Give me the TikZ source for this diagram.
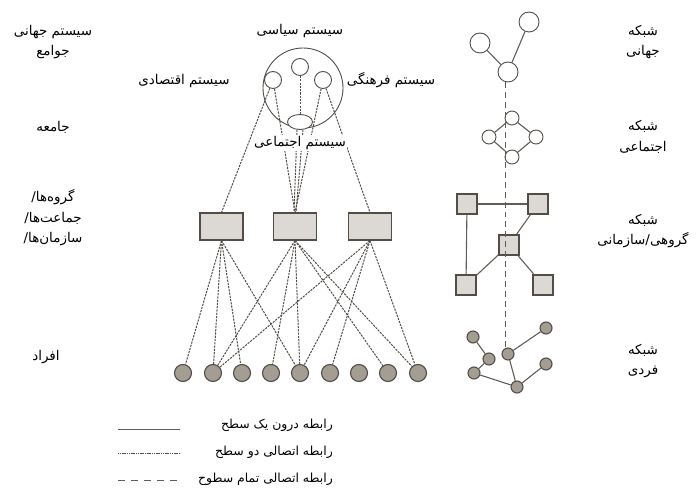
\documentclass[tikz,border=0pt]{standalone}
\usepackage{fontspec}
\usetikzlibrary{shapes.geometric}
\newfontfamily\farsi[Script=Arabic]{DejaVu Sans}
\TeXXeTstate=1
\newcommand{\fa}[1]{{\farsi\beginR #1\endR}}

\definecolor{edgegray}{HTML}{524D48}
\definecolor{boxfill}{HTML}{DCD9D4}
\definecolor{dotfill}{HTML}{A39D94}
\definecolor{linkgray}{HTML}{625C56}

\tikzset{
  link/.style={draw=edgegray, line width=1pt, dash pattern=on 2.2pt off 1.1pt},
  solidlink/.style={draw=linkgray, line width=1.1pt},
  spine/.style={draw=linkgray, line width=0.9pt, dash pattern=on 6pt off 4pt},
  ring/.style={circle, draw=edgegray, line width=0.9pt, inner sep=0pt},
  grp/.style={rectangle, draw=edgegray, fill=boxfill, line width=1.1pt,
              minimum width=43bp, minimum height=27bp, inner sep=0pt},
  sq/.style={rectangle, draw=edgegray, fill=boxfill, line width=1.1pt,
             minimum size=20bp, inner sep=0pt},
  person/.style={circle, draw=edgegray, fill=dotfill, line width=1.1pt,
                 minimum size=17bp, inner sep=0pt},
  dot/.style={circle, draw=edgegray, fill=dotfill, line width=1.1pt,
              minimum size=12bp, inner sep=0pt},
  lbl/.style={font=\fontsize{13.5}{20.5}\selectfont, align=center, inner sep=0pt},
  keylbl/.style={font=\fontsize{12.5}{16}\selectfont, inner sep=0pt, anchor=east},
}

\begin{document}
\begin{tikzpicture}[x=1bp, y=-1bp]
\useasboundingbox (0,0) rectangle (698,490);

% ---- social system and its subsystems ----
\node[ring, minimum size=80bp] (society) at (303,88) {};
\node[ring, minimum size=17bp] (pol) at (300,67) {};
\node[ring, minimum size=17bp] (eco) at (273,80) {};
\node[ring, minimum size=17bp] (cul) at (323,80) {};
\node[ellipse, draw=edgegray, line width=0.9pt, fill=white, inner sep=0pt,
      minimum width=25bp, minimum height=15bp] (soc) at (300,122) {};

\node[lbl] (polL) at (300,31) {\fa{سیستم سیاسی}};
\node[lbl] (ecoL) at (184,81) {\fa{سیستم اقتصادی}};
\node[lbl] (culL) at (391,80) {\fa{سیستم فرهنگی}};

% ---- groups and individuals ----
\node[grp] (g1) at (221.5,226.5) {};
\node[grp] (g2) at (295,226.5) {};
\node[grp] (g3) at (370,226.5) {};

\foreach \i/\x in {1/183,2/213,3/242,4/271,5/300,6/330,7/359,8/388,9/418}
  \node[person] (p\i) at (\x,373) {};

% links between the subsystems and the groups
\draw[link] (pol) -- (soc);
\draw[link] (eco) -- (g1.north);
\draw[link] (eco) -- (g2.north);
\draw[link] (cul) -- (g2.north);
\draw[link] (cul) -- (g3.north);
\draw[link] ([xshift=-3pt]soc.south) -- ([xshift=-1pt]g2.north);
\draw[link] ([xshift=3pt]soc.south) -- ([xshift=1pt]g2.north);

\node[lbl, fill=white, inner sep=1pt] (socL) at (300,143) {\fa{سیستم اجتماعی}};

% links between the groups and the individuals
\foreach \p in {1,2,3,5} \draw[link] (g1.south) -- (p\p);
\foreach \p in {2,4,5,8,9} \draw[link] (g2.south) -- (p\p);
\foreach \p in {2,5,6,9} \draw[link] (g3.south) -- (p\p);

% ---- level labels (left) ----
\node[lbl] (lvl1) at (53,42) {\fa{سیستم جهانی}\\\fa{جوامع}};
\node[lbl] (lvl2) at (53,127) {\fa{جامعه}};
\node[lbl] (lvl3) at (53,218) {\fa{گروه‌ها/}\\\fa{جماعت‌ها/}\\\fa{سازمان‌ها/}};
\node[lbl] (lvl4) at (46,357) {\fa{افراد}};

% ---- network column (right) ----
\node[ring, minimum size=20bp] (w1) at (480,43) {};
\node[ring, minimum size=20bp] (w2) at (529,22) {};
\node[ring, minimum size=20bp] (w3) at (508,72) {};
\draw[solidlink] (w1) -- (w3);
\draw[solidlink] (w2) -- (w3);

\node[ring, minimum size=14bp] (d1) at (512,118) {};
\node[ring, minimum size=14bp] (d2) at (489,137) {};
\node[ring, minimum size=14bp] (d3) at (536,137) {};
\node[ring, minimum size=14bp] (d4) at (512,157) {};
\draw[solidlink] (d1) -- (d2);
\draw[solidlink] (d1) -- (d3);
\draw[solidlink] (d2) -- (d4);
\draw[solidlink] (d3) -- (d4);

\node[sq] (s1) at (467,204) {};
\node[sq] (s2) at (538,204) {};
\node[sq] (s3) at (509,245) {};
\node[sq] (s4) at (466,285) {};
\node[sq] (s5) at (543,285) {};
\draw[solidlink] (s1) -- (s2);
\draw[solidlink] (s1) -- (s4);
\draw[solidlink] (s2) -- (s3);
\draw[solidlink] (s3) -- (s4);
\draw[solidlink] (s3) -- (s5);

\node[dot] (i1) at (473,337) {};
\node[dot] (i2) at (489,359) {};
\node[dot] (i3) at (474,373) {};
\node[dot] (i4) at (508,354) {};
\node[dot] (i5) at (546,328) {};
\node[dot] (i6) at (546,364) {};
\node[dot] (i7) at (517,387) {};
\draw[solidlink] (i1) -- (i2);
\draw[solidlink] (i2) -- (i3);
\draw[solidlink] (i3) -- (i7);
\draw[solidlink] (i4) -- (i7);
\draw[solidlink] (i4) -- (i5);
\draw[solidlink] (i6) -- (i7);

% dashed line running through all levels
\coordinate (spinetop) at (505,82);
\coordinate (spinebot) at (505,348);
\draw[spine] (spinetop) -- (spinebot);

% ---- network labels ----
\node[lbl] (n1) at (643,42) {\fa{شبکه}\\\fa{جهانی}};
\node[lbl] (n2) at (643,137) {\fa{شبکه}\\\fa{اجتماعی}};
\node[lbl] (n3) at (643,231) {\fa{شبکه}\\\fa{گروهی/سازمانی}};
\node[lbl] (n4) at (643,361) {\fa{شبکه}\\\fa{فردی}};

% ---- legend ----
\coordinate (k1a) at (118,429); \coordinate (k1b) at (180,429);
\coordinate (k2a) at (118,453); \coordinate (k2b) at (180,453);
\coordinate (k3a) at (118,480); \coordinate (k3b) at (180,480);
\draw[solidlink, line width=0.8pt] (k1a) -- (k1b);
\draw[link, line width=0.6pt, dash pattern=on 1.2pt off 0.6pt] (k2a) -- (k2b);
\draw[draw=linkgray, line width=0.8pt, dash pattern=on 7pt off 6pt] (k3a) -- (k3b);
\node[keylbl] (t1) at (333,425) {\fa{رابطه درون یک سطح}};
\node[keylbl] (t2) at (333,452) {\fa{رابطه اتصالی دو سطح}};
\node[keylbl] (t3) at (333,479) {\fa{رابطه اتصالی تمام سطوح}};
\end{tikzpicture}
\end{document}
